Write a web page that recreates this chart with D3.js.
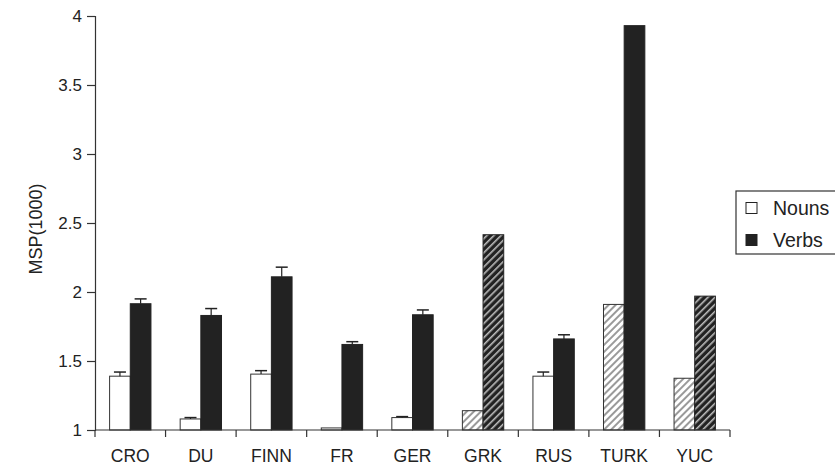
<!DOCTYPE html>
<html><head><meta charset="utf-8">
<script src="https://cdn.jsdelivr.net/npm/d3@7"></script>
<style>body{margin:0;background:#fff;} text{font-family:"Liberation Sans",Arial,sans-serif;fill:#222;}</style>
</head><body><svg id="c" width="835" height="470"></svg>
<script>
const categories = ["CRO","DU","FINN","FR","GER","GRK","RUS","TURK","YUC"];
const nouns     = [1.39, 1.08, 1.405, 1.015, 1.09, 1.14, 1.39, 1.91, 1.375];
const nounErr   = [0.03, 0.01, 0.025, 0, 0.007, 0, 0.03, 0, 0];
const verbs     = [1.915, 1.83, 2.11, 1.62, 1.835, 2.415, 1.66, 3.93, 1.97];
const verbErr   = [0.035, 0.05, 0.07, 0.02, 0.035, 0, 0.03, 0, 0];
const hatched   = [false,false,false,false,false,true,false,true,true];
const hatchedVerb = [false,false,false,false,false,true,false,false,true];
const yTicks = [1,1.5,2,2.5,3,3.5,4];
const seriesNames = ["Nouns","Verbs"];

const svg = d3.select("#c");
const x0 = 95, x1 = 730, yTop = 16, yBot = 430;
const x = d3.scaleBand().domain(categories).range([x0,x1]).paddingInner(0.414).paddingOuter(0.207);
const y = d3.scaleLinear().domain([1,4]).range([yBot,yTop]);
const step = x.step();
const bw = x.bandwidth()/2;

const defs = svg.append("defs");
const pl = defs.append("pattern").attr("id","hl").attr("patternUnits","userSpaceOnUse")
  .attr("width",5).attr("height",5).attr("patternTransform","rotate(45)");
pl.append("rect").attr("width",5).attr("height",5).attr("fill","#fff");
pl.append("rect").attr("width",2).attr("height",5).attr("fill","#9a9a9a");
const pd = defs.append("pattern").attr("id","hd").attr("patternUnits","userSpaceOnUse")
  .attr("width",5).attr("height",5).attr("patternTransform","rotate(45)");
pd.append("rect").attr("width",5).attr("height",5).attr("fill","#222");
pd.append("rect").attr("width",1.6).attr("height",5).attr("fill","#bbb");

const g = svg.append("g");
categories.forEach((c,i)=>{
  const bx = x(c);
  g.append("rect").attr("x",bx).attr("y",y(nouns[i])).attr("width",bw).attr("height",yBot-y(nouns[i]))
    .attr("fill", hatched[i] ? "url(#hl)" : "#fff").attr("stroke","#333").attr("stroke-width",1);
  g.append("rect").attr("x",bx+bw).attr("y",y(verbs[i])).attr("width",bw).attr("height",yBot-y(verbs[i]))
    .attr("fill", hatchedVerb[i] ? "url(#hd)" : "#222").attr("stroke","#222").attr("stroke-width",1);
  const eb = (cx,v,e)=>{
    if(!e) return;
    g.append("line").attr("x1",cx).attr("x2",cx).attr("y1",y(v)).attr("y2",y(v+e)).attr("stroke","#222").attr("stroke-width",1.2);
    g.append("line").attr("x1",cx-6).attr("x2",cx+6).attr("y1",y(v+e)).attr("y2",y(v+e)).attr("stroke","#222").attr("stroke-width",1.5);
  };
  eb(bx+bw/2,nouns[i],nounErr[i]);
  eb(bx+bw*1.5,verbs[i],verbErr[i]);
});

// x axis
const ax = svg.append("g");
ax.append("line").attr("x1",x0).attr("x2",x1).attr("y1",yBot).attr("y2",yBot).attr("stroke","#333").attr("stroke-width",1.2);
d3.range(categories.length+1).forEach(k=>{
  const tx = x0 + k*step;
  ax.append("line").attr("x1",tx).attr("x2",tx).attr("y1",yBot).attr("y2",yBot+7).attr("stroke","#333").attr("stroke-width",1.2);
});
categories.forEach(c=>{
  ax.append("text").attr("x",x(c)+x.bandwidth()/2).attr("y",462).attr("text-anchor","middle")
    .attr("font-size",17.5).text(c);
});

// y axis
const ay = svg.append("g").attr("transform",`translate(${x0},0)`)
  .call(d3.axisLeft(y).tickValues(yTicks).tickSize(8).tickPadding(5).tickFormat(d3.format("~g")));
ay.select(".domain").attr("stroke","#333").attr("stroke-width",1.2);
ay.selectAll(".tick line").attr("stroke","#333").attr("stroke-width",1.2);
ay.selectAll(".tick text").attr("font-size",17).attr("font-family","Liberation Sans, Arial, sans-serif").attr("fill","#222");

svg.append("text").attr("transform",`translate(42,229) rotate(-90)`).attr("text-anchor","middle")
  .attr("font-size",18).text("MSP(1000)");

// legend
const lg = svg.append("g");
lg.append("rect").attr("x",736).attr("y",191).attr("width",110).attr("height",63).attr("fill","#fff").attr("stroke","#333").attr("stroke-width",1.2);
const legFill = ["#fff","#222"];
seriesNames.forEach((s,i)=>{
  const cy = 208 + i*32;
  lg.append("rect").attr("x",746).attr("y",cy-5.5).attr("width",11).attr("height",11).attr("fill",legFill[i]).attr("stroke","#222");
  lg.append("text").attr("x",773).attr("y",cy+7).attr("font-size",19.5).text(s);
});
</script></body></html>
